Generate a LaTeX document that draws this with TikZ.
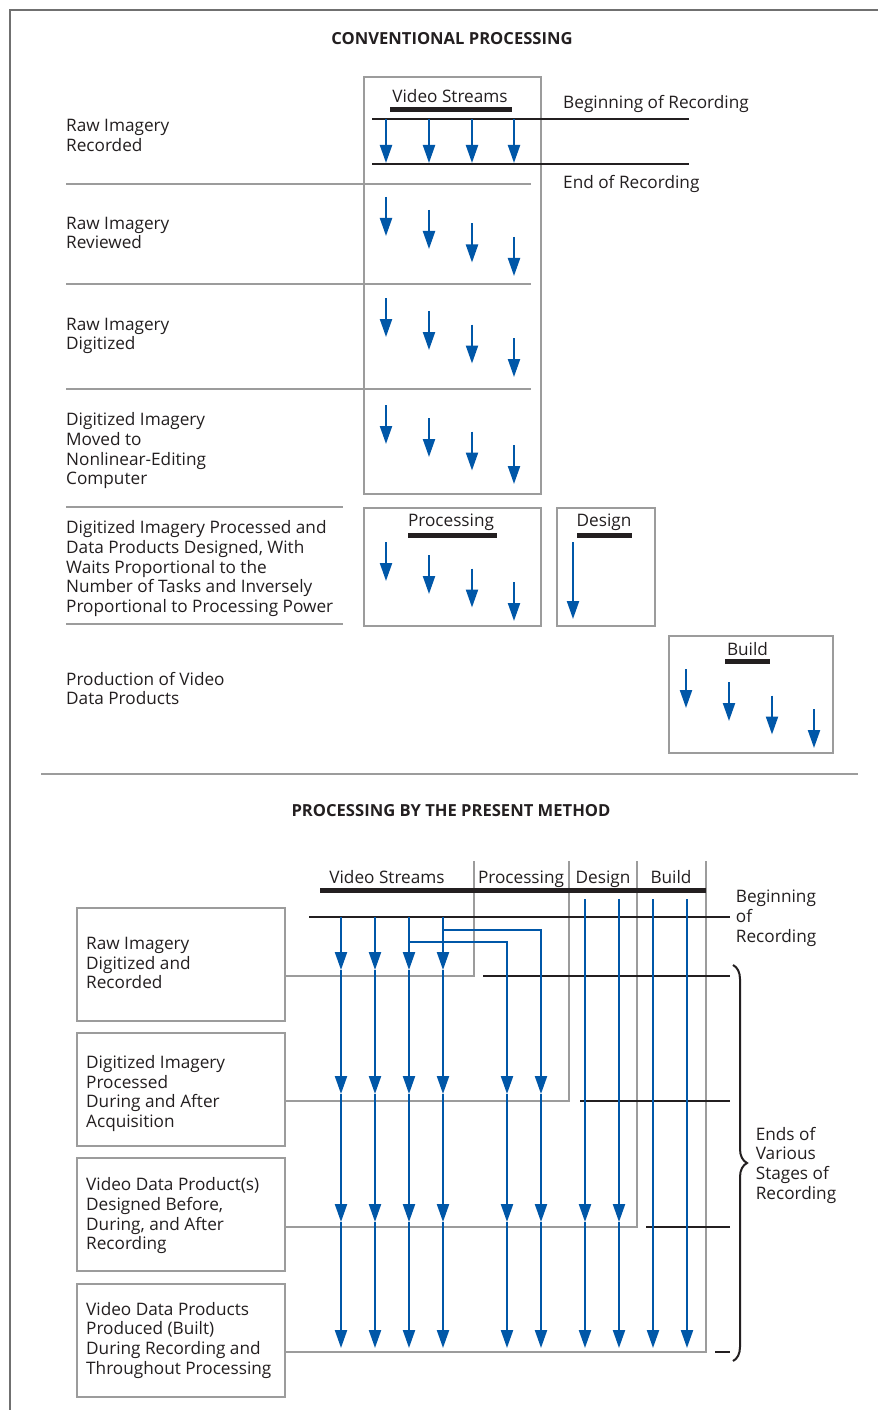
\documentclass[tikz,border=0pt]{standalone}
\usepackage{fontspec}
\setmainfont{Open Sans}
\usetikzlibrary{arrows.meta,decorations.pathreplacing}
\definecolor{gr}{HTML}{9C9C9C}
\definecolor{fr}{HTML}{707070}
\definecolor{bl}{HTML}{0057A8}
\definecolor{ink}{HTML}{231F20}
\newcommand\st{\rule{0pt}{14bp}}
\begin{document}
\begin{tikzpicture}[x=1bp,y=-1bp,
  gline/.style={draw=gr,line width=1.8bp},
  gbox/.style={draw=gr,line width=1.8bp,inner sep=0pt,anchor=north west},
  kline/.style={draw=ink,line width=1.8bp},
  kbar/.style={draw=ink,line width=5bp},
  arr/.style={draw=bl,line width=2.2bp,-{Triangle[length=18bp,width=12bp]}},
  lbl/.style={anchor=north west,yshift=14bp,inner sep=0pt,align=left,text=ink,font=\fontsize{17.2bp}{19.65bp}\selectfont},
  one/.style={anchor=base west,inner sep=0pt,text=ink,font=\fontsize{17.2bp}{19.65bp}\selectfont},
  hdr/.style={anchor=base,inner sep=0pt,text=ink,font=\fontsize{17.2bp}{19.65bp}\selectfont},
  ttl/.style={anchor=base,inner sep=0pt,text=ink,font=\fontsize{16.6bp}{20bp}\selectfont\bfseries}
]
\useasboundingbox (0,0) rectangle (878,1410);
\fill[white] (0,0) rectangle (878,1410);
\draw[draw=fr,line width=2bp] (10,1410) -- (10,10) -- (878,10);

%% ---------------- conventional processing ----------------
\node[ttl] (t1) at (452,44.3) {CONVENTIONAL PROCESSING};

\node[gbox,minimum width=177bp,minimum height=417bp] (vs) at (363,76) {};
\node[hdr] (vsh) at (450,102.3) {Video Streams};
\draw[kbar] (390,109.5) -- (512,109.5);

\coordinate (bA) at (372,119); \coordinate (bB) at (689,119);
\coordinate (eA) at (372,164); \coordinate (eB) at (689,164);
\draw[kline] (bA) -- (bB);
\draw[kline] (eA) -- (eB);
\node[one] (beg) at (563,108.5) {Beginning of Recording};
\node[one] (end) at (563,188.3) {End of Recording};

\foreach \x in {386,429,472,514} \draw[arr] (\x,119) -- (\x,163);
\foreach \y in {197,298,405}
  \foreach \x/\d in {386/0,429/13,472/26.5,514/40}
    \draw[arr] (\x,\y+\d) -- (\x,\y+\d+39);

\draw[gline] (66,184) -- (531,184);
\draw[gline] (66,284) -- (531,284);
\draw[gline] (66,389) -- (531,389);
\draw[gline] (66,507) -- (343,507);
\draw[gline] (66,624) -- (343,624);

\node[lbl] (r1) at (66,131.5) {\st Raw Imagery\\Recorded};
\node[lbl] (r2) at (66,229) {\st Raw Imagery\\Reviewed};
\node[lbl] (r3) at (66,330) {\st Raw Imagery\\Digitized};
\node[lbl] (r4) at (66,425.7) {\st Digitized Imagery\\Moved to\\Nonlinear-Editing\\Computer};
\node[lbl] (r5) at (66,533.7) {\st Digitized Imagery Processed and\\Data Products Designed, With\\Waits Proportional to the\\Number of Tasks and Inversely\\Proportional to Processing Power};
\node[lbl] (r6) at (66,685) {\st Production of Video\\Data Products};

\node[gbox,minimum width=177bp,minimum height=118bp] (pb) at (363,507) {};
\node[hdr] (pbh) at (451,526.7) {Processing};
\draw[kbar] (408,535.5) -- (497,535.5);
\foreach \x/\d in {386/0,429/13,472/26.5,514/40}
  \draw[arr] (\x,542+\d) -- (\x,542+\d+39);

\node[gbox,minimum width=98bp,minimum height=118bp] (db) at (556,507) {};
\node[hdr] (dbh) at (604,526.7) {Design};
\draw[kbar] (577,535.5) -- (632,535.5);
\draw[arr] (573,542) -- (573,619);

\node[gbox,minimum width=164bp,minimum height=117bp] (bb) at (668,635) {};
\node[hdr] (bbh) at (747.5,655.7) {Build};
\draw[kbar] (725,661.5) -- (770,661.5);
\foreach \x/\d in {686/0,729/13,772/26.5,814/40}
  \draw[arr] (\x,669+\d) -- (\x,669+\d+39);

\draw[gline] (41,774) -- (858,774);

%% ---------------- present method ----------------
\node[ttl] (t2) at (451,816.7) {PROCESSING BY THE PRESENT METHOD};

\node[gbox,minimum width=208bp,minimum height=113bp] (b1) at (76,907) {};
\node[gbox,minimum width=208bp,minimum height=113bp] (b2) at (76,1032) {};
\node[gbox,minimum width=208bp,minimum height=113bp] (b3) at (76,1157) {};
\node[gbox,minimum width=208bp,minimum height=113bp] (b4) at (76,1283) {};
\node[lbl] (b1t) at (86,949.3) {\st Raw Imagery\\Digitized and\\Recorded};
\node[lbl] (b2t) at (86,1068.3) {\st Digitized Imagery\\Processed\\During and After\\Acquisition};
\node[lbl] (b3t) at (86,1190.7) {\st Video Data Product(s)\\Designed Before,\\During, and After\\Recording};
\node[lbl] (b4t) at (86,1315) {\st Video Data Products\\Produced (Built)\\During Recording and\\Throughout Processing};

% stage boundaries
\coordinate (s1) at (474,976);  \coordinate (s1t) at (474,861);
\coordinate (s2) at (569,1101); \coordinate (s2t) at (569,861);
\coordinate (s3) at (637,1227); \coordinate (s3t) at (637,861);
\coordinate (s4) at (706,1352); \coordinate (s4t) at (706,861);
\draw[gline] (b1.east |- s1) -- (s1) -- (s1t);
\draw[gline] (b2.east |- s2) -- (s2) -- (s2t);
\draw[gline] (b3.east |- s3) -- (s3) -- (s3t);
\draw[gline] (b4.east |- s4) -- (s4) -- (s4t);

\draw[kbar] (320,890.5) -- (706,890.5);
\node[hdr] (h1) at (387,883.3) {Video Streams};
\node[hdr] (h2) at (521,883.3) {Processing};
\node[hdr] (h3) at (603,883.3) {Design};
\node[hdr] (h4) at (671,883.3) {Build};

\coordinate (rb) at (729.5,917);
\draw[kline] (309,917) -- (rb);
\node[lbl] (begb) at (735.7,902.7) {\st Beginning\\of\\Recording};
\coordinate (e1) at (729.5,976);
\coordinate (e2) at (729.5,1101);
\coordinate (e3) at (729.5,1227);
\coordinate (e4) at (729.5,1352);
\draw[kline] (483,976) -- (e1);
\draw[kline] (580,1101) -- (e2);
\draw[kline] (646,1227) -- (e3);
\draw[kline] (715,1352) -- (e4);

\coordinate (brT) at (733,965);
\coordinate (brB) at (733,1361);
\draw[draw=ink,line width=2bp,decorate,decoration={brace,amplitude=14bp}] (brT) -- (brB);
\node[lbl] (ends) at (755.6,1140) {\st Ends of\\Various\\Stages of\\Recording};

% rows of arrow tips
\coordinate (r0) at (0,917);
\coordinate (rt) at (0,899);
\coordinate (q1) at (0,970);
\coordinate (q2) at (0,1094);
\coordinate (q3) at (0,1222);
\coordinate (q4) at (0,1348);
% columns
\foreach \i/\x in {1/341,2/375,3/409,4/443,5/507,6/541,7/585,8/619,9/653,10/687}
  \coordinate (c\i) at (\x,0);

\foreach \i in {1,2,3,4}{
  \draw[arr] (c\i |- r0) -- (c\i |- q1);
  \draw[arr] (c\i |- q1) -- (c\i |- q2);
  \draw[arr] (c\i |- q2) -- (c\i |- q3);
  \draw[arr] (c\i |- q3) -- (c\i |- q4);
}
\coordinate (k3) at (409,942);
\coordinate (k4) at (443,930);
\draw[arr] (k3) -- (c5 |- k3) -- (c5 |- q2);
\draw[arr] (k4) -- (c6 |- k4) -- (c6 |- q2);
\foreach \i in {5,6}{
  \draw[arr] (c\i |- q2) -- (c\i |- q3);
  \draw[arr] (c\i |- q3) -- (c\i |- q4);
}
\foreach \i in {7,8}{
  \draw[arr] (c\i |- rt) -- (c\i |- q3);
  \draw[arr] (c\i |- q3) -- (c\i |- q4);
}
\foreach \i in {9,10}
  \draw[arr] (c\i |- rt) -- (c\i |- q4);
\end{tikzpicture}
\end{document}
